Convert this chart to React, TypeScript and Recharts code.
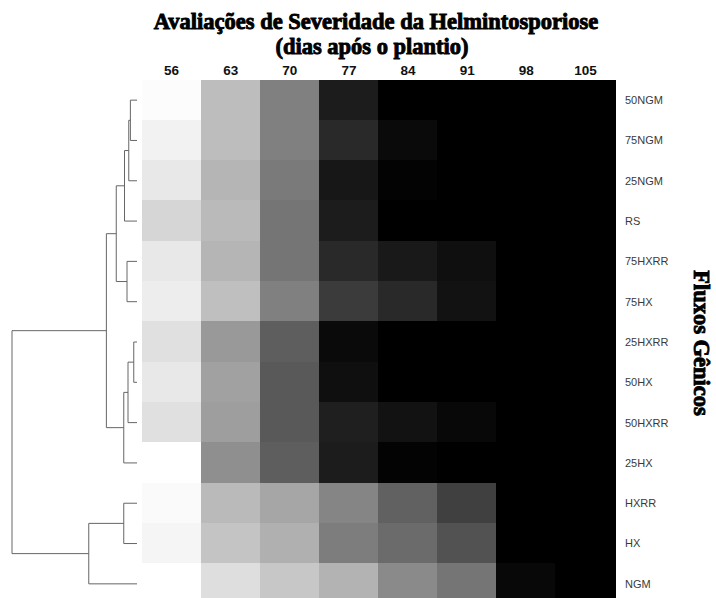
import React from "react";
import { BarChart, Bar, XAxis, YAxis, Cell, LineChart, Line } from "recharts";

// linhas do heatmap, na ordem do dendrograma
const fluxos = [
  "50NGM", "75NGM", "25NGM", "RS", "75HXRR", "75HX", "25HXRR",
  "50HX", "50HXRR", "25HX", "HXRR", "HX", "NGM",
];

const dias = [56, 63, 70, 77, 84, 91, 98, 105];

// severidade (%) por avaliação, uma posição por fluxo
const sev56 = [1, 5, 9, 16, 9, 7, 12, 9, 12, 0, 2, 4, 0];
const sev63 = [26, 26, 29, 27, 29, 25, 40, 37, 38, 44, 27, 23, 13];
const sev70 = [50, 50, 52, 54, 54, 50, 63, 65, 65, 63, 35, 31, 22];
const sev77 = [89, 84, 91, 89, 84, 77, 96, 94, 88, 89, 48, 51, 30];
const sev84 = [100, 96, 99, 100, 90, 84, 100, 100, 93, 99, 62, 58, 46];
const sev91 = [100, 100, 100, 100, 94, 93, 100, 100, 97, 100, 75, 68, 54];
const sev98 = [100, 100, 100, 100, 100, 100, 100, 100, 100, 100, 100, 100, 97];
const sev105 = [100, 100, 100, 100, 100, 100, 100, 100, 100, 100, 100, 100, 100];

const severidade = [sev56, sev63, sev70, sev77, sev84, sev91, sev98, sev105];

// agrupamento hierárquico (estilo hclust: negativo = folha, positivo = fusão)
const fusoes: [number, number][] = [
  [-1, -2], [1, -3], [2, -4], [-5, -6], [3, 4], [-7, -8],
  [6, -9], [7, -10], [5, 8], [-11, -12], [10, -13], [9, 11],
];
const alturas = [0.053, 0.066, 0.1, 0.08, 0.166, 0.026, 0.072, 0.106, 0.245, 0.106, 0.386, 1.0];

const cinza = (s: number) => {
  const g = Math.round(255 * (1 - s / 100));
  return `rgb(${g},${g},${g})`;
};

const linhas = fluxos.map((f) => {
  const row: Record<string, string | number> = { fluxo: f };
  dias.forEach((d) => (row[`d${d}`] = 1));
  return row;
});

// segmentos do dendrograma
const nos: { y: number; h: number }[] = [];
const ramos = fusoes.map(([a, b], k) => {
  const pega = (r: number) => (r < 0 ? { y: -r - 1, h: 0 } : nos[r - 1]);
  const A = pega(a);
  const B = pega(b);
  const H = alturas[k];
  nos.push({ y: (A.y + B.y) / 2, h: H });
  return [
    { h: A.h, y: A.y },
    { h: H, y: A.y },
    { h: H, y: B.y },
    { h: B.h, y: B.y },
  ];
});

const serif = "'Liberation Serif', 'Times New Roman', serif";
const sans = "'Liberation Sans', Arial, sans-serif";

export default function App() {
  return (
    <div style={{ position: "absolute", left: 0, top: 0, width: 716, height: 598, overflow: "hidden", background: "#fff" }}>
      <div style={{ position: "absolute", left: 0, top: 0 }}>
        <LineChart width={142} height={610} margin={{ top: 80, right: 5, bottom: 6, left: 12 }}>
          <XAxis type="number" dataKey="h" domain={[0, 1]} reversed hide />
          <YAxis type="number" domain={[-0.5, 12.5]} reversed hide />
          {ramos.map((r, i) => (
            <Line
              key={i}
              data={r}
              dataKey="y"
              type="linear"
              stroke="#666"
              strokeWidth={1}
              dot={false}
              activeDot={false}
              isAnimationActive={false}
            />
          ))}
        </LineChart>
      </div>
      <div style={{ position: "absolute", left: 0, top: 0 }}>
        <BarChart
          width={716}
          height={610}
          data={linhas}
          layout="vertical"
          barCategoryGap={0}
          margin={{ top: 60, right: 11, bottom: 6, left: 142 }}
        >
          <XAxis
            type="number"
            orientation="top"
            domain={[0, 8]}
            ticks={dias.map((_, i) => i + 0.5)}
            tickFormatter={(v: number) => String(dias[Math.floor(v)])}
            axisLine={false}
            tickLine={false}
            tickSize={5}
            tickMargin={0}
            height={20}
            interval={0}
            tick={{ fontFamily: sans, fontSize: 13.5, fontWeight: 700, fill: "#111" }}
          />
          <YAxis
            type="category"
            dataKey="fluxo"
            orientation="right"
            width={90}
            axisLine={false}
            tickLine={false}
            tickSize={6}
            tickMargin={4}
            interval={0}
            tick={{ fontFamily: sans, fontSize: 11, fill: "#3a3a3a", textAnchor: "start" }}
          />
          {dias.map((d, j) => (
            <Bar key={d} dataKey={`d${d}`} stackId="heat" isAnimationActive={false}>
              {fluxos.map((f, i) => (
                <Cell
                  key={f}
                  fill={cinza(severidade[j][i])}
                  stroke={cinza(severidade[j][i])}
                  strokeWidth={1}
                  shapeRendering="crispEdges"
                />
              ))}
            </Bar>
          ))}
        </BarChart>
      </div>
      <svg width={716} height={598} style={{ position: "absolute", left: 0, top: 0, pointerEvents: "none" }}>
        <g fontFamily={serif} fontWeight={700} fill="#000" stroke="#000" strokeWidth={0.9} textAnchor="middle">
          <text x={376} y={29} fontSize={22.5}>Avaliações de Severidade da Helmintosporiose</text>
          <text x={372} y={54} fontSize={22.5}>(dias após o plantio)</text>
          <text x={0} y={0} fontSize={22.5} transform="translate(694,343) rotate(90)">Fluxos Gênicos</text>
        </g>
      </svg>
    </div>
  );
}
